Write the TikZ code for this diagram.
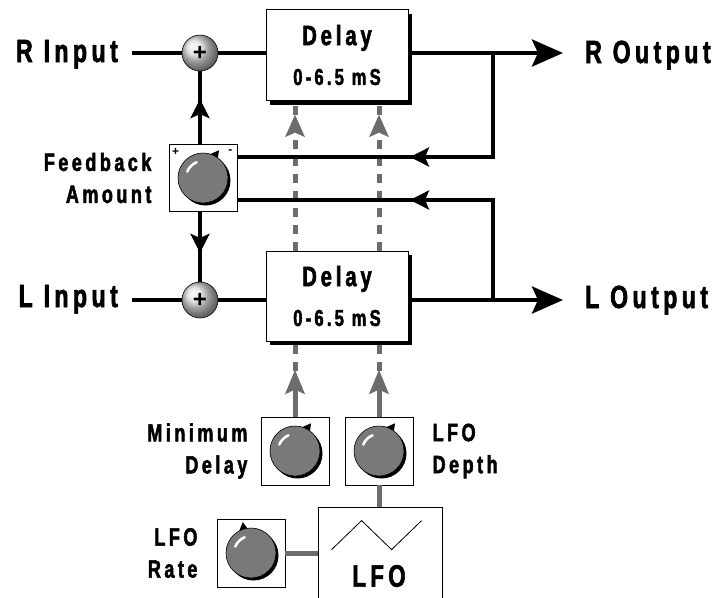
\documentclass[tikz,border=0pt]{standalone}
\usepackage{fontspec}
\setmainfont{Liberation Sans}
\newfontfamily\dspfont[FakeStretch=0.72,LetterSpace=14,FakeBold=2]{Liberation Sans Bold}
\usetikzlibrary{arrows.meta,positioning,shadows,calc,decorations.markings}

\begin{document}
\begin{tikzpicture}[x=1pt, y=-1pt,
    node distance=10pt,
    sig/.style={line width=4.5pt},
    gline/.style={line width=5pt, draw=gray!85!black},
    gdash/.style={gline, dash pattern=on 9pt off 8pt},
    bigtip/.style={-{Stealth[length=31pt,width=27pt,inset=6pt]}},
    gtip/.style={-{Stealth[length=24pt,width=19pt,inset=4pt]}},
    midtip/.style={postaction={decorate}, decoration={markings,
        mark=at position #1 with {\arrow{Stealth[length=19pt,width=19pt,inset=4pt]}}}},
    gmidtip/.style={postaction={decorate}, decoration={markings,
        mark=at position #1 with {\arrow[gray!85!black]{Stealth[length=22pt,width=19pt,inset=4pt]}}}},
    delaybox/.style={draw, line width=0.8pt, fill=white,
                     minimum width=142pt, minimum height=91pt, align=center,
                     font=\dspfont,
                     drop shadow={fill=black, opacity=1, shadow xshift=4pt, shadow yshift=-4pt}},
    knobbox/.style={draw, line width=0.8pt, fill=white,
                    minimum width=68pt, minimum height=68pt, inner sep=0pt},
    sumnode/.style={circle, draw, line width=0.6pt, minimum size=36pt, inner sep=0pt,
                    shading=ball, ball color=gray!25,
                    font=\fontsize{24}{24}\selectfont\bfseries},
    iolbl/.style={inner sep=0pt, font=\dspfont\fontsize{32}{36}\selectfont},
    ctllbl/.style={inner sep=0pt, align=right, font=\dspfont\fontsize{25}{32}\selectfont},
    pics/knob/.style={code={
        \fill[black] (2.5,2.5) circle (25);
        \fill[black] (-#1-16:24) -- (-#1:32) -- (-#1+8:24) -- cycle;
        \draw[line width=0.6pt, fill=gray!95!black] (0,0) circle (25);
        \draw[white, line width=2.5pt, line cap=round] (-112:17) arc (-112:-158:17);
    }}
  ]
  \useasboundingbox (0,0) rectangle (716,598);

  % delay lines
  \node[delaybox] (delR) at (337,55) {\fontsize{28}{30}\selectfont Delay\\[17pt]\fontsize{23}{24}\selectfont 0-6.5 mS};
  \node[delaybox, minimum height=90pt] (delL) at (337,296) {\fontsize{28}{30}\selectfont Delay\\[17pt]\fontsize{23}{24}\selectfont 0-6.5 mS};

  \node[sumnode] (sumR) at (200,53) {+};
  \node[sumnode] (sumL) at (200,300) {+};

  % feedback amount
  \node[knobbox, minimum height=67pt] (fb) at (203,178) {};
  \pic at (fb.center) {knob=60};
  \node[font=\bfseries\fontsize{12}{12}\selectfont] at ($(fb.north west)+(7,8)$) {+};
  \node[font=\bfseries\fontsize{12}{12}\selectfont] at ($(fb.north east)+(-7,7)$) {-};
  \node[ctllbl, left=17pt of fb] (fblbl) {Feedback\\Amount};

  % modulation controls
  \node[knobbox] (mind) at (295,451) {};
  \pic at (mind.center) {knob=60};
  \node[knobbox] (lfod) at (379,451) {};
  \pic at (lfod.center) {knob=60};
  \node[knobbox] (lfor) at (251,553) {};
  \pic at (lfor.center) {knob=105};
  \node[draw, line width=0.8pt, fill=white, minimum width=124pt, minimum height=98pt] (lfo) at (380,556) {};
  \draw[line width=0.8pt] ($(lfo.north west)+(14,43)$) -- ++(30,-29) -- ++(30,29) -- ++(30,-29);
  \node[font=\dspfont\fontsize{31}{31}\selectfont] at ($(lfo.center)+(-1,20)$) {LFO};

  \node[ctllbl, left=13pt of mind] (mindlbl) {Minimum\\Delay};
  \node[ctllbl, align=left, right=19pt of lfod] (lfodlbl) {LFO\\Depth};
  \node[ctllbl, left=19pt of lfor] (lforlbl) {LFO\\Rate};

  % inputs and outputs
  \node[iolbl, anchor=base east] (rin) at (118,62) {R Input};
  \node[iolbl, anchor=base east] (lin) at (118,307) {L Input};
  \node[iolbl, anchor=base west] (rout) at (585,63) {R Output};
  \node[iolbl, anchor=base west] (lout) at (585,308) {L Output};
  \coordinate (tapR) at (493,53);
  \coordinate (tapL) at (493,300);

  % modulation paths
  \draw[gdash, gmidtip=136pt] (delL.north -| mind) -- ($(delR.south -| mind)+(0,4)$);
  \draw[gdash, gmidtip=136pt] (delL.north -| lfod) -- ($(delR.south -| lfod)+(0,4)$);
  \draw[gdash] ($(delL.south -| mind)+(0,4)$) -- (mind.north);
  \draw[gline, gtip] (mind.north) -- ++(0,-47);
  \draw[gdash] ($(delL.south -| lfod)+(0,4)$) -- (lfod.north);
  \draw[gline, gtip] (lfod.north) -- ++(0,-47);
  \draw[gline] (lfod.south) -- (lfod.south |- lfo.north);
  \draw[gline] (lfor.east) -- (lfor.east -| lfo.west);

  % audio paths
  \draw[sig] ($(rin.east |- sumR)+(14,0)$) -- (sumR);
  \draw[sig] (sumR) -- (sumR -| delR.west);
  \draw[sig, bigtip] (sumR -| delR.east) -- ($(sumR -| rout.west)+(-22,0)$);
  \draw[sig] ($(lin.east |- sumL)+(14,0)$) -- (sumL);
  \draw[sig] (sumL) -- (sumL -| delL.west);
  \draw[sig, bigtip] (sumL -| delL.east) -- ($(sumL -| lout.west)+(-22,0)$);

  % feedback paths
  \draw[sig, midtip=187pt] (tapR) |- ($(fb.east)+(0,-21)$);
  \draw[sig, midtip=183pt] (tapL) |- ($(fb.east)+(0,22)$);
  \draw[sig, midtip=45pt] (fb.north -| sumR) -- (sumR);
  \draw[sig, midtip=41pt] (fb.south -| sumL) -- (sumL);
\end{tikzpicture}
\end{document}
